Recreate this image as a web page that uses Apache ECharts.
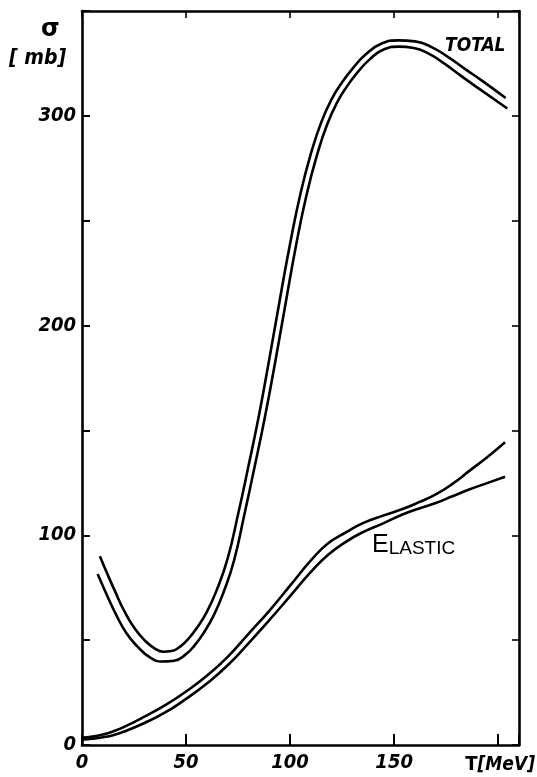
<!DOCTYPE html>
<html>
<head>
<meta charset="utf-8">
<script src="https://cdn.jsdelivr.net/npm/echarts@6/dist/echarts.min.js"></script>
<style>
  html, body { margin: 0; padding: 0; background: #fff; }
  #chart { width: 537px; height: 777px; }
</style>
</head>
<body>
<div id="chart"></div>
<script>
// Kinetic energy T [MeV] and cross section sigma [mb]; each curve is drawn as a double line.
const totalUpperT = [8.6, 12, 16, 20, 25, 30, 35, 39, 43, 47, 51, 55, 60, 65, 70, 75, 80, 85, 90, 95, 100, 105, 110, 115, 120, 125, 130, 136, 144, 152, 160, 168, 176, 184, 192, 203.6];
const totalUpperS = [90, 82, 73, 64.5, 56, 50, 46, 44.5, 44.8, 46.8, 50.5, 55.5, 63.5, 74.5, 89, 110, 133, 157, 184, 212, 239, 263, 282, 297, 308, 316, 322.5, 329, 334.5, 336, 335.5, 332.8, 328, 322.4, 316.9, 308.5];

const totalLowerT = [7.5, 12.1, 16.2, 21.3, 26.8, 32.5, 38.3, 44.3, 49.7, 54.2, 58.3, 63.3, 68.2, 73.1, 77.9, 82.9, 87.9, 93, 98, 102.9, 107.9, 112.9, 117.8, 122.7, 127.5, 132.3, 138, 145.2, 152.2, 159.4, 166.6, 174, 181.8, 189.7, 204.4];
const totalLowerS = [81.5, 71.2, 62.5, 53.4, 46.8, 41.9, 39.8, 40.2, 43.1, 47.6, 53.2, 61.8, 73.3, 88.1, 109.3, 132.4, 156.4, 183.5, 211.5, 238.4, 262.3, 281.2, 295.9, 306.6, 314.3, 320.6, 326.7, 331.8, 333, 332.4, 329.7, 325, 319.3, 313.7, 303.5];

const elasticUpperT = [0, 5, 10, 15, 20, 30, 40, 50, 60, 70, 80, 90, 100, 110, 118, 127, 135, 145, 154, 162, 170, 178, 186, 195, 203.3];
const elasticUpperS = [3.5, 4, 5, 6.5, 8.5, 13.5, 19, 25.5, 33, 42, 53, 64, 76, 88, 96, 101.5, 105.8, 109.5, 112.5, 115.8, 119.5, 124.5, 130.6, 137.5, 144.4];

const elasticLowerT = [0, 5, 10, 15, 20, 30, 40, 50, 60, 70, 80, 90, 100, 110, 118, 127, 135, 145, 154, 162, 170, 178, 186, 195, 203.3];
const elasticLowerS = [2.5, 3, 3.7, 4.7, 6.3, 10.5, 15.5, 22, 29.3, 38, 48.5, 59.5, 71, 82.5, 90.5, 97, 101.5, 105.8, 109.9, 112.8, 115.4, 118.6, 121.8, 125, 127.9];

// Axis ranges and labelled ticks
const xRange = [0, 210];
const yRange = [0, 350];
const xLabelled = [0, 50, 100, 150];
const yLabelled = [0, 100, 200, 300];

const pairs = (ts, ss) => ts.map((t, i) => [t, ss[i]]);

const narrowFamily = '"DejaVu Sans Condensed", "Liberation Sans Narrow", "Liberation Sans", sans-serif';

const labelFont = {
  color: '#000',
  fontFamily: narrowFamily,
  fontWeight: 'bold',
  fontStyle: 'italic',
  fontSize: 20
};

const frameLine = { show: true, onZero: false, lineStyle: { color: '#000', width: 2.6 } };

function curve(name, ts, ss) {
  return {
    name: name,
    type: 'line',
    data: pairs(ts, ss),
    smooth: 0.5,
    showSymbol: false,
    symbol: 'none',
    silent: true,
    lineStyle: { color: '#000', width: 2.6 },
    z: 3
  };
}

const chart = echarts.init(document.getElementById('chart'), null, { renderer: 'canvas' });

chart.setOption({
  animation: false,
  backgroundColor: '#fff',
  grid: { left: 82, right: 18, top: 11, bottom: 32, containLabel: false },
  xAxis: [
    {
      type: 'value', position: 'bottom', min: xRange[0], max: xRange[1], interval: 50,
      axisLine: frameLine,
      axisTick: { show: true, inside: true, length: 11, lineStyle: { color: '#000', width: 2 } },
      axisLabel: Object.assign({ margin: 8, formatter: v => xLabelled.includes(v) ? String(v) : '' }, labelFont),
      splitLine: { show: false }
    },
    {
      type: 'value', position: 'top', min: xRange[0], max: xRange[1], interval: 50,
      axisLine: frameLine,
      axisTick: { show: true, inside: true, length: 7, lineStyle: { color: '#000', width: 1.6 } },
      axisLabel: { show: false },
      splitLine: { show: false }
    }
  ],
  yAxis: [
    {
      type: 'value', position: 'left', min: yRange[0], max: yRange[1], interval: 50,
      axisLine: frameLine,
      axisTick: { show: true, inside: true, length: 8, lineStyle: { color: '#000', width: 2 } },
      axisLabel: Object.assign({ margin: 6, formatter: v => yLabelled.includes(v) ? String(v) : '' }, labelFont),
      splitLine: { show: false }
    },
    {
      type: 'value', position: 'right', min: yRange[0], max: yRange[1], interval: 50,
      axisLine: frameLine,
      axisTick: { show: true, inside: true, length: 7, lineStyle: { color: '#000', width: 1.6 } },
      axisLabel: { show: false },
      splitLine: { show: false }
    }
  ],
  series: [
    curve('total-upper', totalUpperT, totalUpperS),
    curve('total-lower', totalLowerT, totalLowerS),
    curve('elastic-upper', elasticUpperT, elasticUpperS),
    curve('elastic-lower', elasticLowerT, elasticLowerS)
  ],
  graphic: [
    {
      type: 'text', left: 41, top: 18,
      style: { text: 'σ', fill: '#000', font: 'bold 24px "DejaVu Sans", sans-serif' }
    },
    {
      type: 'text', left: 9, top: 48,
      style: { text: '[ mb]', fill: '#000', font: 'italic bold 21px ' + narrowFamily }
    },
    {
      type: 'text', left: 445, top: 37,
      style: { text: 'TOTAL', fill: '#000', font: 'italic bold 19px ' + narrowFamily }
    },
    {
      type: 'text', left: 372, top: 533,
      style: {
        text: '{a|E}{b|LASTIC}',
        fill: '#000',
        rich: {
          a: { fontSize: 25, fontFamily: '"Liberation Sans", sans-serif', fill: '#000', verticalAlign: 'bottom' },
          b: { fontSize: 19, fontFamily: '"Liberation Sans", sans-serif', fill: '#000', verticalAlign: 'bottom' }
        }
      }
    },
    {
      type: 'text', right: 2, top: 755,
      style: {
        text: '{t|T}{u|[MeV]}',
        fill: '#000',
        rich: {
          t: { fontSize: 20, fontWeight: 'bold', fontFamily: narrowFamily, fill: '#000' },
          u: { fontSize: 19, fontWeight: 'bold', fontStyle: 'italic', fontFamily: narrowFamily, fill: '#000' }
        }
      }
    }
  ]
});
</script>
</body>
</html>
